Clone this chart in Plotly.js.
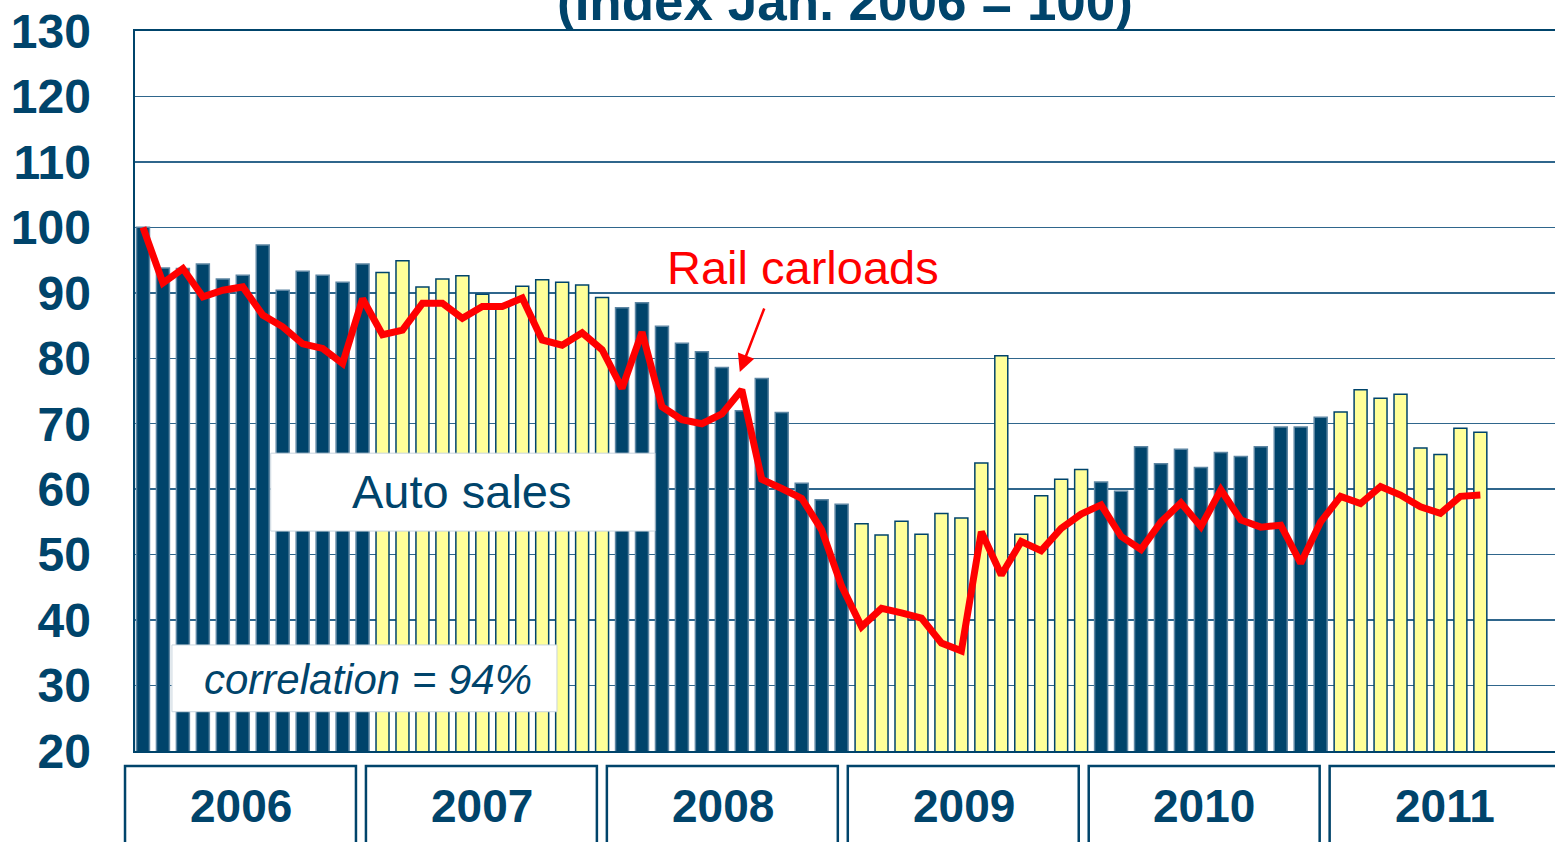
<!DOCTYPE html>
<html>
<head>
<meta charset="utf-8">
<script src="https://cdn.plot.ly/plotly-3.0.1.min.js"></script>
<style>
  html, body { margin: 0; padding: 0; background: #ffffff; }
  #chart { width: 1555px; height: 842px; }
</style>
</head>
<body>
<div id="chart"></div>
<script>
// Monthly index, Jan. 2006 = 100
const years = ['2006', '2007', '2008', '2009', '2010', '2011'];
const monthNames = ['Jan', 'Feb', 'Mar', 'Apr', 'May', 'Jun', 'Jul', 'Aug', 'Sep', 'Oct', 'Nov', 'Dec'];

const autoSales = [
  100, 93.8, 93.7, 94.4, 92.1, 92.7, 97.3, 90.4, 93.3, 92.7, 91.6, 94.4,
  93.1, 94.9, 90.9, 92.1, 92.6, 89.8, 88.0, 91.0, 92.0, 91.6, 91.2, 89.3,
  87.7, 88.5, 84.9, 82.3, 81.0, 78.6, 72.0, 76.9, 71.7, 60.9, 58.4, 57.7,
  54.7, 53.0, 55.1, 53.1, 56.3, 55.6, 64.0, 80.4, 53.1, 59.0, 61.5, 63.0,
  61.1, 59.7, 66.5, 63.9, 66.1, 63.3, 65.6, 65.0, 66.5, 69.5, 69.5, 71.0,
  71.8, 75.2, 73.9, 74.5, 66.3, 65.3, 69.3, 68.7
];

const railCarloads = [
  100, 91.5, 93.7, 89.4, 90.4, 90.9, 86.6, 84.8, 82.2, 81.5, 79.2, 89.1,
  83.6, 84.3, 88.4, 88.4, 86.1, 87.9, 87.9, 89.2, 82.8, 82.0, 83.9, 81.3,
  75.4, 84.0, 72.6, 70.6, 70.0, 71.5, 75.2, 61.5, 60.1, 58.6, 53.8, 45.2,
  39.0, 41.8, 41.1, 40.3, 36.5, 35.3, 53.5, 46.9, 52.0, 50.6, 54.0, 56.2,
  57.6, 52.8, 50.8, 55.0, 57.9, 54.3, 59.9, 55.3, 54.2, 54.5, 48.7, 55.0,
  58.9, 57.8, 60.4, 59.1, 57.3, 56.3, 58.9, 59.1
];

const yTicks = [20, 30, 40, 50, 60, 70, 80, 90, 100, 110, 120, 130];

const NAVY = '#00446b';
const YELLOW = '#ffff99';
const RED = '#ff0000';
const FONT = 'Arial, "Liberation Sans", sans-serif';

// month labels for the category axis
const months = autoSales.map((v, i) => monthNames[i % 12] + ' ' + years[Math.floor(i / 12)]);
// alternate colours by year
const barColors = autoSales.map((v, i) => Math.floor(i / 12) % 2 === 0 ? NAVY : YELLOW);
const barLines = autoSales.map((v, i) => Math.floor(i / 12) % 2 === 0 ? '#5d86a3' : NAVY);

const xMin = -0.4, xMax = 70.74;
const toPaper = idx => (idx - xMin) / (xMax - xMin);
const yearStep = 12.07; // year boxes are drawn slightly wider than 12 months

const barTrace = {
  x: months,
  y: autoSales,
  type: 'bar',
  name: 'Auto sales',
  marker: { color: barColors, line: { color: barLines, width: 1.5 } },
  hovertemplate: '%{x}<br>Auto sales: %{y}<extra></extra>'
};

const railTrace = {
  x: months,
  y: railCarloads,
  type: 'scatter',
  mode: 'lines',
  name: 'Rail carloads',
  line: { color: RED, width: 7 },
  hovertemplate: '%{x}<br>Rail carloads: %{y}<extra></extra>'
};

const shapes = [
  // Auto sales label box
  { type: 'rect', xref: 'x', yref: 'y', x0: 6.4, x1: 25.65, y0: 53.6, y1: 65.5,
    fillcolor: '#ffffff', line: { color: '#c9d5de', width: 1 }, layer: 'above' },
  // correlation label box
  { type: 'rect', xref: 'x', yref: 'y', x0: 1.45, x1: 20.74, y0: 26.0, y1: 36.2,
    fillcolor: '#ffffff', line: { color: '#c9d5de', width: 1 }, layer: 'above' }
];

const annotations = [
  { x: 15.98, y: 59.6, xref: 'x', yref: 'y', text: 'Auto sales', showarrow: false,
    font: { family: FONT, size: 47, color: NAVY } },
  { x: 11.27, y: 30.9, xref: 'x', yref: 'y', text: '<i>correlation = 94%</i>', showarrow: false,
    font: { family: FONT, size: 42, color: NAVY } },
  { x: 33.07, y: 93.8, xref: 'x', yref: 'y', text: 'Rail carloads', showarrow: false,
    font: { family: FONT, size: 47, color: RED } },
  { x: 29.9, y: 77.9, xref: 'x', yref: 'y', text: '', showarrow: true,
    ax: 25, ay: -65, arrowhead: 2, arrowsize: 1.4, arrowwidth: 2.5, arrowcolor: RED },
  { x: 0.5, y: 1.0, xref: 'paper', yref: 'paper', yanchor: 'bottom', yshift: -2,
    text: '<b>(Index Jan. 2006 = 100)</b>', showarrow: false,
    font: { family: FONT, size: 53, color: NAVY } }
];

// year boxes under the axis
years.forEach((yr, k) => {
  const start = yearStep * k - 0.9;
  shapes.push({
    type: 'rect', xref: 'paper', yref: 'paper',
    x0: toPaper(start), x1: k === years.length - 1 ? 1.05 : toPaper(start + 11.57),
    y0: -0.021, y1: -0.2,
    fillcolor: '#ffffff', line: { color: NAVY, width: 2.5 }
  });
  annotations.push({
    x: start + 5.8, y: -0.077, xref: 'x', yref: 'paper', yanchor: 'middle',
    text: '<b>' + yr + '</b>', showarrow: false,
    font: { family: FONT, size: 46, color: NAVY }
  });
});

const layout = {
  width: 1555,
  height: 842,
  margin: { l: 135, r: 0, t: 31, b: 91 },
  paper_bgcolor: '#ffffff',
  plot_bgcolor: '#ffffff',
  showlegend: false,
  bargap: 0.35,
  font: { family: FONT, color: NAVY },
  xaxis: {
    type: 'category',
    range: [xMin, xMax],
    showticklabels: false,
    showgrid: false,
    zeroline: false,
    showline: true,
    mirror: true,
    linecolor: NAVY,
    linewidth: 2,
    ticks: ''
  },
  yaxis: {
    range: [20, 130],
    tickvals: yTicks,
    showgrid: true,
    gridcolor: '#2f668c',
    gridwidth: 1.5,
    zeroline: false,
    showline: true,
    linecolor: NAVY,
    linewidth: 2.5,
    ticks: '',
    ticklabelstandoff: 32,
    tickfont: { family: FONT, size: 48, color: NAVY, weight: 'bold' }
  },
  shapes: shapes,
  annotations: annotations
};

Plotly.newPlot('chart', [barTrace, railTrace], layout, { displayModeBar: false, staticPlot: true });
</script>
</body>
</html>
